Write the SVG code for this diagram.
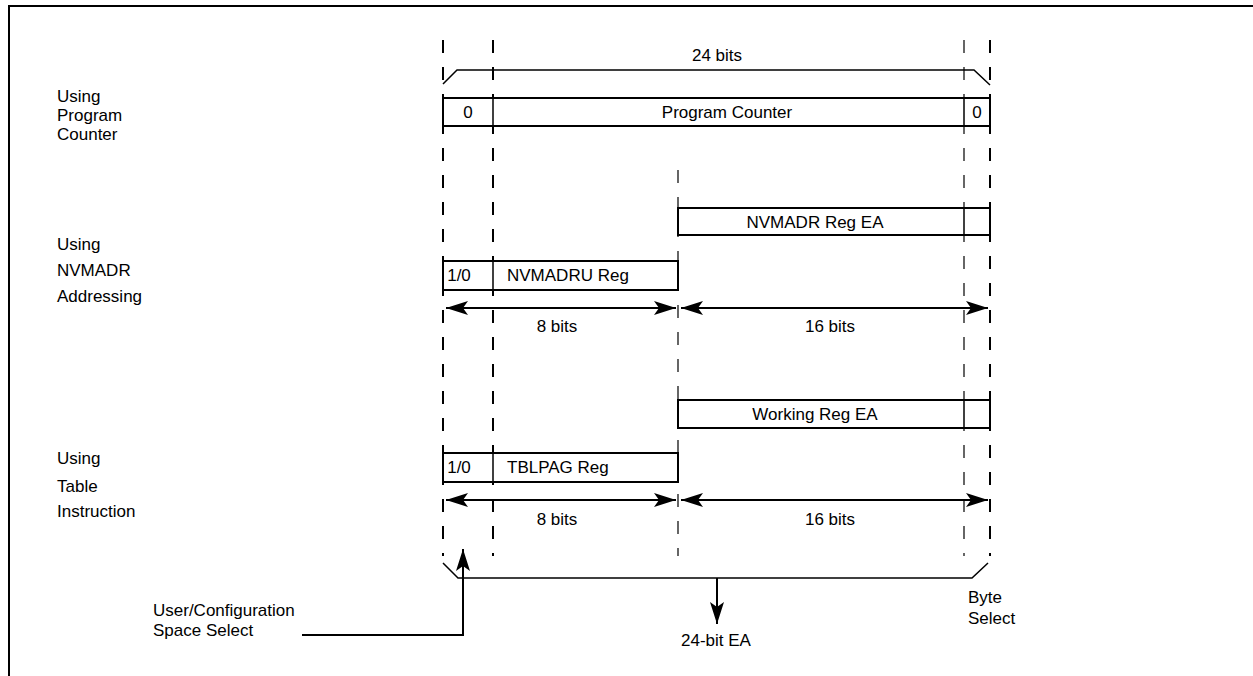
<svg xmlns="http://www.w3.org/2000/svg" width="1253" height="676" viewBox="0 0 1253 676">
<defs>
<marker id="ah" viewBox="0 0 22 14" refX="22" refY="7" markerWidth="22" markerHeight="14" markerUnits="userSpaceOnUse" orient="auto-start-reverse">
<path d="M0,0 L22,7 L0,14 L5,7 Z" fill="#000"/>
</marker>
</defs>
<style>
text{font-family:"Liberation Sans",Arial,sans-serif;font-size:17px;fill:#000}
.c{text-anchor:middle}
.box{fill:#fff;stroke:#000;stroke-width:2}
.dash{stroke:#000;stroke-width:2;stroke-dasharray:13 14;fill:none}
.dthin{stroke:#000;stroke-width:1.2;stroke-dasharray:13 14;fill:none}
.ln{stroke:#000;stroke-width:1.5;fill:none}
.arr{stroke:#000;stroke-width:2;fill:none;marker-start:url(#ah);marker-end:url(#ah)}
.arr1{stroke:#000;stroke-width:2;fill:none;marker-end:url(#ah)}
</style>
<rect width="1253" height="676" fill="#fff"/>
<path d="M9,676 V6 H1253" fill="none" stroke="#000" stroke-width="2"/>

<g id="guides">
<line class="dash" x1="443" y1="40" x2="443" y2="556"/>
<line class="dash" x1="493" y1="40" x2="493" y2="556"/>
<line class="dthin" x1="678" y1="170" x2="678" y2="556"/>
<line class="dthin" x1="964" y1="40" x2="964" y2="556"/>
<line class="dash" x1="990" y1="40" x2="990" y2="556"/>
</g>

<g id="top-bracket">
<path class="ln" d="M443,84 L457,70 H974 L990,85"/>
<text class="c" x="717" y="61">24 bits</text>
</g>

<g id="labels-left">
<text x="57" y="102">Using</text>
<text x="57" y="121">Program</text>
<text x="57" y="140">Counter</text>
<text x="57" y="250">Using</text>
<text x="57" y="276">NVMADR</text>
<text x="57" y="302">Addressing</text>
<text x="57" y="464">Using</text>
<text x="57" y="492">Table</text>
<text x="57" y="517">Instruction</text>
</g>

<g id="program-counter">
<rect class="box" x="443" y="98" width="547" height="28"/>
<line class="ln" x1="493" y1="98" x2="493" y2="126" stroke-width="2"/>
<line class="ln" x1="964" y1="98" x2="964" y2="126" stroke-width="2"/>
<text class="c" x="468" y="118">0</text>
<text class="c" x="727" y="118">Program Counter</text>
<text class="c" x="977" y="118">0</text>
</g>

<g id="nvmadr-ea">
<rect class="box" x="678" y="208" width="312" height="27"/>
<line class="ln" x1="964" y1="208" x2="964" y2="235" stroke-width="2"/>
<text class="c" x="815" y="228">NVMADR Reg EA</text>
</g>

<g id="nvmadru">
<rect class="box" x="443" y="261" width="235" height="29"/>
<line class="ln" x1="493" y1="261" x2="493" y2="290" stroke-width="2"/>
<text class="c" x="459" y="281">1/0</text>
<text x="507" y="281">NVMADRU Reg</text>
</g>

<g id="working-ea">
<rect class="box" x="678" y="400" width="312" height="28"/>
<line class="ln" x1="964" y1="400" x2="964" y2="428" stroke-width="2"/>
<text class="c" x="815" y="420">Working Reg EA</text>
</g>

<g id="tblpag">
<rect class="box" x="443" y="453" width="235" height="29"/>
<line class="ln" x1="493" y1="453" x2="493" y2="482" stroke-width="2"/>
<text class="c" x="459" y="473">1/0</text>
<text x="507" y="473">TBLPAG Reg</text>
</g>

<g id="connectors">
<line class="arr" x1="446" y1="308" x2="676" y2="308"/>
<line class="arr" x1="681" y1="308" x2="988" y2="308"/>
<line class="arr" x1="446" y1="500" x2="676" y2="500"/>
<line class="arr" x1="681" y1="500" x2="988" y2="500"/>
<path class="ln" d="M443,563 L458,578 H972 L988,563"/>
<line class="arr1" x1="717" y1="578" x2="717" y2="624"/>
<polyline class="arr1" points="302,635 463,635 463,549"/>
</g>

<g id="dim-labels">
<text class="c" x="557" y="332">8 bits</text>
<text class="c" x="830" y="332">16 bits</text>
<text class="c" x="557" y="525">8 bits</text>
<text class="c" x="830" y="525">16 bits</text>
</g>

<g id="bottom-labels">
<text class="c" x="716" y="646">24-bit EA</text>
<text x="153" y="616">User/Configuration</text>
<text x="153" y="636">Space Select</text>
<text x="968" y="603">Byte</text>
<text x="968" y="624">Select</text>
</g>
</svg>
